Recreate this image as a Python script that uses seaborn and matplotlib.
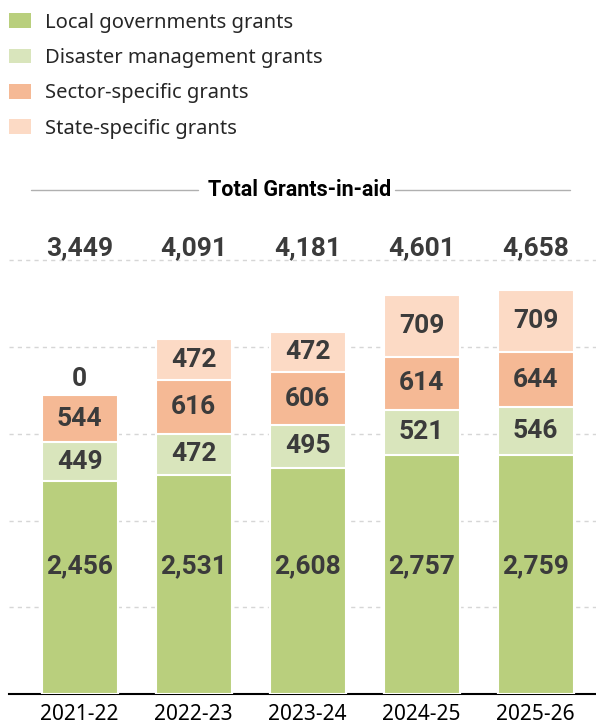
import matplotlib
matplotlib.use("Agg")
import matplotlib.pyplot as plt
import seaborn as sns
import pandas as pd
import numpy as np
from matplotlib.patches import Patch
from matplotlib.lines import Line2D

years = ["2021-22", "2022-23", "2023-24", "2024-25", "2025-26"]
local_gov = [2456, 2531, 2608, 2757, 2759]
disaster = [449, 472, 495, 521, 546]
sector = [544, 616, 606, 614, 644]
state = [0, 472, 472, 709, 709]
totals = [3449, 4091, 4181, 4601, 4658]

series_names = ["Local governments grants", "Disaster management grants",
                "Sector-specific grants", "State-specific grants"]
colors = ["#B9CF7D", "#D9E5BC", "#F5B995", "#FCDAC5"]

sns.set_theme(style="white")
plt.rcParams["font.family"] = ["Noto Sans", "DejaVu Sans"]

W, H = 596, 724
fig = plt.figure(figsize=(W / 100, H / 100), dpi=100)

ymax = 5400
px_per_unit = 0.0867
ax_bottom_px = 694
ax_top_px = ax_bottom_px - ymax * px_per_unit
ax_left_px = 9
ax = fig.add_axes([ax_left_px / W, 1 - ax_bottom_px / H, 1 - ax_left_px / W, (ax_bottom_px - ax_top_px) / H])

df = pd.DataFrame({"year": years, "l": local_gov, "d": disaster, "s": sector, "t": state})
layers = [df["l"], df["l"] + df["d"], df["l"] + df["d"] + df["s"], df["l"] + df["d"] + df["s"] + df["t"]]

for yv in [1000, 2000, 3000, 4000, 5000]:
    ax.axhline(yv, color="#d6d6d6", lw=1, ls=(0, (3, 3)), zorder=0)

for i in range(3, -1, -1):
    sns.barplot(x=df["year"], y=layers[i], color=colors[i], width=0.667,
                edgecolor="white", linewidth=1.5, saturation=1, ax=ax, zorder=2 + (3 - i))

ax.set_xlim(-0.62, 4.53)
ax.set_ylim(0, ymax)
for side in ["top", "right", "left"]:
    ax.spines[side].set_visible(False)
ax.spines["bottom"].set_color("black")
ax.spines["bottom"].set_linewidth(1.5)
ax.set_yticks([])
ax.set_xlabel("")
ax.set_ylabel("")
ax.tick_params(axis="x", length=0, labelsize=15, pad=7, labelcolor="black")

bold_family = ["Roboto", "DejaVu Sans"]
lab_color = "#3b3b3b"
parts = [local_gov, disaster, sector, state]
for xi in range(len(years)):
    base = 0
    for si, vals in enumerate(parts):
        v = vals[xi]
        if si == 0:
            yy = 1476
        elif v > 0:
            yy = base + v / 2
        else:
            yy = base + 180
        ax.text(xi, yy, f"{v:,}", ha="center", va="center", family=bold_family,
                fontsize=19, fontweight="bold", color=lab_color, zorder=10)
        base += v
    ax.text(xi, 5140, f"{totals[xi]:,}", ha="center", va="center", family=bold_family,
            fontsize=19, fontweight="bold", color=lab_color, clip_on=False)

# title with side lines
ty = 1 - 190 / H
fig.text(300 / W, ty, "Total Grants-in-aid", ha="center", va="center", family=bold_family,
         fontsize=15.5, fontweight="bold", color="black")
fig.add_artist(Line2D([31 / W, 198 / W], [ty, ty], color="#b0b0b0", lw=1))
fig.add_artist(Line2D([395 / W, 570 / W], [ty, ty], color="#b0b0b0", lw=1))

handles = [Patch(facecolor=c, edgecolor="none") for c in colors]
fig.legend(handles, series_names, loc="upper left", bbox_to_anchor=(-0.005, 0.999),
           frameon=False, fontsize=14.5, handlelength=1.1, handleheight=0.75,
           handletextpad=0.7, labelspacing=0.76, borderaxespad=0.2)

fig.savefig("out.png", dpi=100)
